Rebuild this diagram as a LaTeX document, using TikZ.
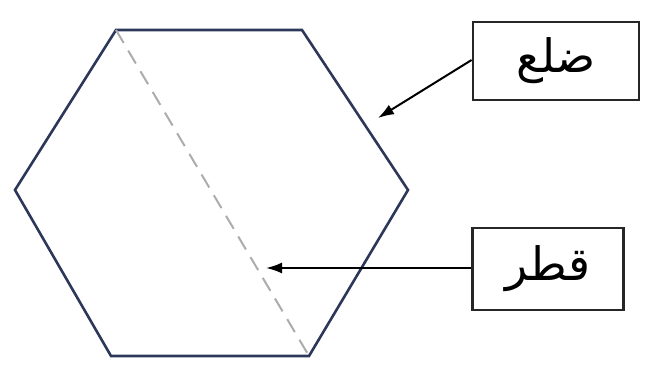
\documentclass[tikz,border=0pt]{standalone}
\usepackage{fontspec}
\newfontfamily\arabicfont[Script=Arabic]{DejaVu Sans}
\TeXXeTstate=1
\usetikzlibrary{arrows.meta}
\definecolor{hexblue}{RGB}{45,55,90}
\begin{document}
\begin{tikzpicture}[x=1pt, y=-1pt, >={Latex[length=16pt,width=11pt]}]
    \tikzstyle{hex_style} = [draw=hexblue, line width=2.6pt, line join=miter]
    \tikzstyle{diag_style} = [draw=gray!65, line width=2pt, dash pattern=on 15pt off 9pt]
    \tikzstyle{label_style} = [draw=black!85, line width=2.8pt, inner sep=0pt, font=\arabicfont\fontsize{46}{54}\selectfont]
    \tikzstyle{arrow_style} = [draw=black, ->, line width=2pt]
    \useasboundingbox (0,0) rectangle (649,371);
    % hexagon corners
    \coordinate (h1) at (15,190);
    \coordinate (h2) at (116,30);
    \coordinate (h3) at (302,30);
    \coordinate (h4) at (408,190);
    \coordinate (h5) at (309,356);
    \coordinate (h6) at (111,356);
    \draw[hex_style] (h1) -- (h2) -- (h3) -- (h4) -- (h5) -- (h6) -- cycle;
    \draw[diag_style] (h2) -- (h5);
    % labels
    \node[label_style, minimum width=166pt, minimum height=78pt] (side) at (556,61) {\beginR ضلع\endR};
    \node[label_style, minimum width=151pt, minimum height=82pt] (diag) at (548,269) {\beginR قطر\endR};
    \coordinate (side_tip) at (378,118);
    \coordinate (diag_tip) at (266,268);
    \draw[arrow_style] (side.west) ++(0,-1) -- (side_tip);
    \draw[arrow_style] (diag.west) ++(0,-1) -- (diag_tip);
\end{tikzpicture}
\end{document}
